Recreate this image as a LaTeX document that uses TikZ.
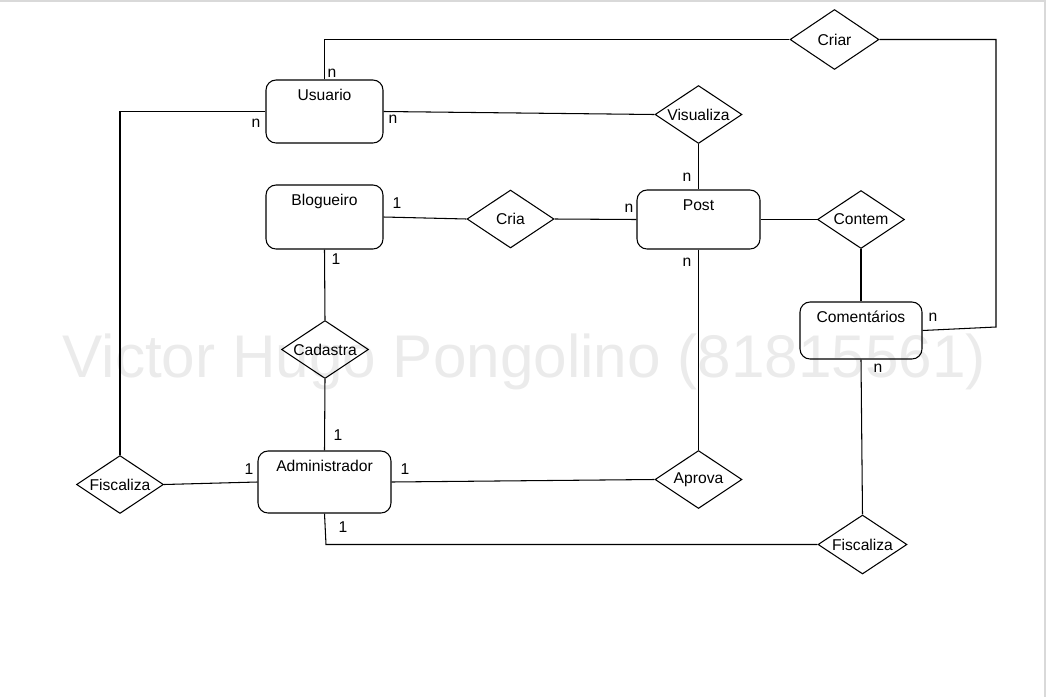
\documentclass[tikz,border=0pt]{standalone}
\usepackage{fontspec}
\setmainfont{Liberation Sans}
\usetikzlibrary{shapes.geometric}
\tikzset{entity/.style = {draw, rounded corners = 0.2cm, inner sep = 0, minimum width = 2.34cm, minimum height = 1.26cm,
    label = {[anchor = base, yshift = -0.42cm, inner sep = 0]north:#1}}}
\tikzset{rel/.style = {draw, diamond, aspect = 1.5, inner sep = 0, minimum width = 1.74cm, minimum height = 1.16cm}}
\tikzset{card/.style = {inner sep = 0}}
\definecolor{framegray}{rgb}{0.85, 0.85, 0.85}

\begin{document}
\begin{tikzpicture}[x = 0.02cm, y = -0.02cm, line width = 0.6pt, font = \fontsize{8.9}{10.7}\selectfont]
      \useasboundingbox (0, 0) rectangle (1046, 697);
      \draw [framegray, line width = 0.8pt] (0, 1) -- (1045, 1) -- (1045, 697);
      % entidades
      \node [entity = Usuario] (usuario) at (324.5, 111.5) {};
      \node [entity = Blogueiro, minimum height = 1.28cm] (blogueiro) at (324.5, 217) {};
      \node [entity = Post, minimum width = 2.46cm, minimum height = 1.18cm] (post) at (698.5, 219.5) {};
      \node [entity = Comentários, minimum width = 2.44cm, minimum height = 1.14cm] (comentarios) at (861, 330.5) {};
      \node [entity = Administrador, minimum width = 2.66cm, minimum height = 1.24cm] (admin) at (324.5, 482) {};
      % relacionamentos
      \node [rel, minimum width = 1.78cm, minimum height = 1.2cm] (criar) at (834.5, 39.5) {Criar};
      \node [rel] (visualiza) at (698.5, 114.5) {Visualiza};
      \node [rel] (cria) at (510.5, 219) {Cria};
      \node [rel] (contem) at (861, 219.5) {Contem};
      \node [rel] (cadastra) at (325, 349.5) {Cadastra};
      \node [rel] (fiscA) at (120, 484.5) {Fiscaliza};
      \node [rel] (aprova) at (698.5, 479.5) {Aprova};
      \node [rel, minimum width = 1.78cm, minimum height = 1.18cm] (fiscB) at (862.5, 544.5) {Fiscaliza};
      % ligacoes
      \coordinate (criarC) at (996, 327);
      \coordinate (adminC) at (326, 544.5);
      \draw (usuario.north) |- (criar.west);
      \draw (criar.east) -| (criarC) -- (comentarios.east);
      \draw (usuario.west) -| (fiscA.north);
      \draw (usuario.east) -- (visualiza.west);
      \draw (visualiza.south) -- (post.north);
      \draw (blogueiro.east) -- (cria.west);
      \draw (cria.east) -- (post.west);
      \draw (post.east) -- (contem.west);
      \draw (contem.south) -- (comentarios.north);
      \draw (blogueiro.south) -- (cadastra.north);
      \draw (cadastra.south) -- (admin.north);
      \draw (admin.west) -- (fiscA.east);
      \draw (admin.east) -- (aprova.west);
      \draw (post.south) -- (aprova.north);
      \draw (admin.south) -- (adminC) -- (fiscB.west);
      \draw (comentarios.south) -- (fiscB.north);
      % cardinalidades
      \foreach \x/\y/\t [count = \i] in {332/73/n, 256/123/n, 393/119/n, 397/203/1, 336/259/1,
          687/177/n, 629/208/n, 687/262/n, 338/435/1, 249/469/1, 405/469/1, 343/527/1, 933/317/n, 878/368/n} {
        \node [card] (card\i) at (\x, \y) {\t};
      }
      \node [anchor = base west, inner sep = 0, text = black, text opacity = 0.08, font = \fontsize{34.3}{40}\selectfont]
        (marca) at (62, 377) {Victor Hugo Pongolino (81815561)};
    \end{tikzpicture}
\end{document}
